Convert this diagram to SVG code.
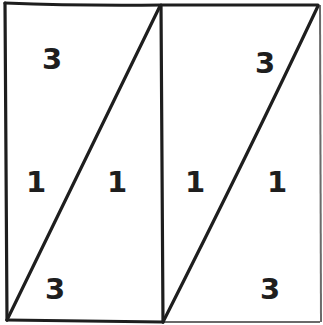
<svg xmlns="http://www.w3.org/2000/svg" width="323" height="325" viewBox="0 0 323 325">
<style>
.ln{fill:none;stroke:#1e1e1e;stroke-width:3.2;stroke-linecap:round;stroke-linejoin:round}
.lt{fill:none;stroke:#6a6a6a;stroke-width:2}
.t{font-family:"DejaVu Sans",sans-serif;font-weight:bold;font-size:29px;fill:#1e1e1e;text-anchor:middle}
</style>
<rect width="323" height="325" fill="#fff"/>
<g id="connectors">
<path class="ln" d="M5,3 Q80,6 162,5 L318,5"/>
<path class="ln" d="M5,3 L7,320"/>
<path class="ln" d="M7,320 Q80,321 163,322"/>
<path class="lt" d="M163,322 L320,322"/>
<path class="lt" d="M320,5 L321,322"/>
<path class="ln" d="M161,5 L163,322"/>
<path class="ln" d="M160,6 L7,320"/>
<path class="ln" d="M318,6 Q250,150 163,322"/>
</g>
<g id="labels">
<text class="t" x="52" y="69">3</text>
<text class="t" x="36" y="192">1</text>
<text class="t" x="117" y="192">1</text>
<text class="t" x="55" y="299">3</text>
<text class="t" x="265" y="73">3</text>
<text class="t" x="195" y="192">1</text>
<text class="t" x="277" y="192">1</text>
<text class="t" x="270" y="299">3</text>
</g>
</svg>
